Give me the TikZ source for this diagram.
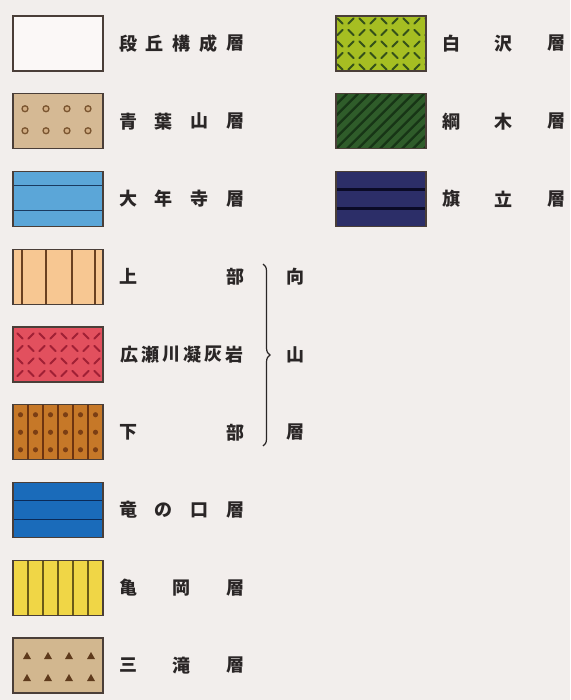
\documentclass[tikz,border=0pt]{standalone}
\usepackage{fontspec}
\newfontfamily\cjk{Noto Sans CJK JP}
\usetikzlibrary{decorations.pathreplacing}
\definecolor{bg}{HTML}{F2EEEC}
\definecolor{boxline}{HTML}{4A3E38}
\definecolor{labc}{HTML}{2A2626}
\definecolor{cDan}{HTML}{FBF8F7}
\definecolor{cAoba}{HTML}{D5B994}
\definecolor{cAobaD}{HTML}{7A5530}
\definecolor{cDai}{HTML}{5BA6D8}
\definecolor{cDaiD}{HTML}{1A3A60}
\definecolor{cJo}{HTML}{F7C792}
\definecolor{cJoD}{HTML}{6A4020}
\definecolor{cHiro}{HTML}{E2505E}
\definecolor{cHiroD}{HTML}{A02035}
\definecolor{cKa}{HTML}{C67828}
\definecolor{cKaD}{HTML}{6E3410}
\definecolor{cTatsu}{HTML}{1A6BBA}
\definecolor{cTatsuD}{HTML}{0A2A58}
\definecolor{cKame}{HTML}{F0D646}
\definecolor{cKameD}{HTML}{6A5A18}
\definecolor{cMita}{HTML}{D2B78F}
\definecolor{cMitaD}{HTML}{5E3A1C}
\definecolor{cShira}{HTML}{A6BE22}
\definecolor{cShiraD}{HTML}{34501A}
\definecolor{cTsuna}{HTML}{2F5C2A}
\definecolor{cTsunaD}{HTML}{173516}
\definecolor{cHata}{HTML}{2C2E68}
\definecolor{cHataD}{HTML}{0A0A26}
\tikzset{
  legbox/.style={minimum width=90pt, minimum height=55pt, inner sep=0pt, outer sep=0pt, anchor=north west},
  boxedge/.style={draw=boxline, line width=1.1pt},
  lab/.style={font=\cjk\bfseries\fontsize{18}{18}\selectfont, text=labc, inner sep=0pt},
  dashmark/.style={line width=2pt, line cap=round},
}
\newcommand{\latticedash}[6]{% rows, cols, x0, y0, dx, dy
  \foreach \r in {0,...,#1} \foreach \c in {0,...,#2} {
    \pgfmathtruncatemacro\oddrc{mod(\r+\c,2)}
    \ifnum\oddrc=0
      \draw[dashmark] (#3+#5*\c-2.6, #4+#6*\r-2.6) -- ++(5.2,5.2);
    \else
      \draw[dashmark] (#3+#5*\c+2.6, #4+#6*\r-2.6) -- ++(-5.2,5.2);
    \fi
  }}
\newcommand{\patin}[2]{%
  \begin{scope}[shift={(#1.north west)}]
    \clip (0,0) rectangle (90,55);
    #2
  \end{scope}
  \draw[boxedge] (#1.north west) rectangle (#1.south east);}
\begin{document}
\begin{tikzpicture}[x=1pt,y=-1pt]
\useasboundingbox[fill=bg] (0,0) rectangle (570,700);

% ---- left column boxes ----
\node[legbox, fill=cDan] (b1) at (13,16) {};
\patin{b1}{}
\node[legbox, fill=cAoba] (b2) at (13,93.75) {};
\patin{b2}{\foreach \xx in {12,33,54,75} \foreach \yy in {15,37}
      \draw[cAobaD, line width=1.3pt, fill=cAoba!80!brown] (\xx,\yy) circle (3pt);}
\node[legbox, fill=cDai] (b3) at (13,171.5) {};
\patin{b3}{\draw[cDaiD, line width=1.6pt] (0,14) -- (90,14) (0,39) -- (90,39);}
\node[legbox, fill=cJo] (b4) at (13,249.25) {};
\patin{b4}{\foreach \xx in {9,33,59,82} \draw[cJoD, line width=1.1pt] (\xx,0) -- (\xx,55);}
\node[legbox, fill=cHiro] (b5) at (13,327) {};
\patin{b5}{\begin{scope}[cHiroD]\latticedash{3}{7}{7}{9}{11}{12.5}\end{scope}}
\node[legbox, fill=cKa] (b6) at (13,404.75) {};
\patin{b6}{\foreach \xx in {15,30,45,60,75} \draw[cKaD, line width=1.1pt] (\xx,0) -- (\xx,55);
    \foreach \xx in {7.5,22.5,37.5,52.5,67.5,82.5} \foreach \yy in {10,27.5,45}
      \fill[cKaD!85!cKa] (\xx,\yy) circle (2.6pt);}
\node[legbox, fill=cTatsu] (b7) at (13,482.5) {};
\patin{b7}{\draw[cTatsuD, line width=1.8pt] (0,18) -- (90,18) (0,37) -- (90,37);}
\node[legbox, fill=cKame] (b8) at (13,560.25) {};
\patin{b8}{\foreach \xx in {15,30,45,60,75} \draw[cKameD, line width=1.1pt] (\xx,0) -- (\xx,55);}
\node[legbox, fill=cMita] (b9) at (13,638) {};
\patin{b9}{\foreach \xx in {14,35,56,78} \foreach \yy in {18,40}
      \fill[cMitaD] (\xx,\yy-4) -- (\xx+4,\yy+3) -- (\xx-4,\yy+3) -- cycle;}

% ---- right column boxes ----
\node[legbox, fill=cShira] (r1) at (336,16) {};
\patin{r1}{\begin{scope}[cShiraD]\latticedash{4}{8}{4}{5}{11}{11.5}\end{scope}}
\node[legbox, fill=cTsuna] (r2) at (336,93.75) {};
\patin{r2}{\foreach \xx in {-66,-55,...,99} \draw[cTsunaD, line width=2.4pt] (\xx,55) -- (\xx+55,0);}
\node[legbox, fill=cHata] (r3) at (336,171.5) {};
\patin{r3}{\draw[cHataD, line width=2.6pt] (0,18) -- (90,18) (0,37) -- (90,37);}

% ---- left labels ----
\foreach \ch [count=\k from 0] in {段,丘,構,成,層} \node[lab] (t1-\k) at (128+26.75*\k, 43.5) {\ch};
\foreach \ch [count=\k from 0] in {青,葉,山,層} \node[lab] (t2-\k) at (128+35.67*\k, 121.25) {\ch};
\foreach \ch [count=\k from 0] in {大,年,寺,層} \node[lab] (t3-\k) at (128+35.67*\k, 199) {\ch};
\foreach \ch [count=\k from 0] in {上,部} \node[lab] (t4-\k) at (128+107*\k, 276.75) {\ch};
\foreach \ch [count=\k from 0] in {広,瀬,川,凝,灰,岩} \node[lab] (t5-\k) at (129+21*\k, 354.5) {\ch};
\foreach \ch [count=\k from 0] in {下,部} \node[lab] (t6-\k) at (128+107*\k, 432.25) {\ch};
\foreach \ch [count=\k from 0] in {竜,の,口,層} \node[lab] (t7-\k) at (128+35.67*\k, 510) {\ch};
\foreach \ch [count=\k from 0] in {亀,岡,層} \node[lab] (t8-\k) at (128+53.5*\k, 587.75) {\ch};
\foreach \ch [count=\k from 0] in {三,滝,層} \node[lab] (t9-\k) at (128+53.5*\k, 665.5) {\ch};

% ---- right labels ----
\foreach \ch [count=\k from 0] in {白,沢,層} \node[lab] (s1-\k) at (451+52.5*\k, 43.5) {\ch};
\foreach \ch [count=\k from 0] in {綱,木,層} \node[lab] (s2-\k) at (451+52.5*\k, 121.25) {\ch};
\foreach \ch [count=\k from 0] in {旗,立,層} \node[lab] (s3-\k) at (451+52.5*\k, 199) {\ch};

% ---- brace and 向山層 ----
\coordinate (brtop) at (263,264);
\coordinate (brbot) at (263,446);
\draw[labc, line width=1.2pt, decorate, decoration={brace, amplitude=7pt}] (brtop) -- (brbot);
\node[lab] (m1) at (295,276.75) {向};
\node[lab] (m2) at (295,354.5) {山};
\node[lab] (m3) at (295,432.25) {層};
\end{tikzpicture}
\end{document}
